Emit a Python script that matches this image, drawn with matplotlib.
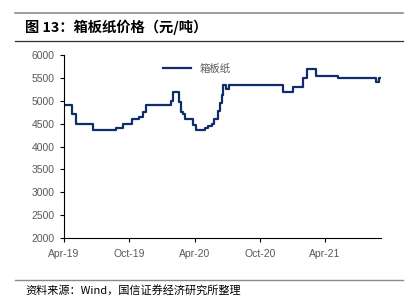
import matplotlib.pyplot as plt
import matplotlib.dates as mdates
import pandas as pd
from matplotlib.lines import Line2D

plt.rcParams["font.family"] = ["Liberation Sans", "Noto Sans CJK SC", "DejaVu Sans"]

# step changes of the carton board price (date, price from that date)
change_dates = [
    "2019-04-01", "2019-04-23", "2019-05-04", "2019-06-22", "2019-08-25",
    "2019-09-14", "2019-10-09", "2019-10-28", "2019-11-08", "2019-11-17",
    "2020-01-26", "2020-01-31", "2020-02-18", "2020-02-23", "2020-02-28",
    "2020-03-04", "2020-03-10", "2020-03-29", "2020-04-05", "2020-04-30",
    "2020-05-08", "2020-05-19", "2020-05-25", "2020-06-05", "2020-06-11",
    "2020-06-17", "2020-06-19", "2020-06-28", "2020-07-07", "2020-12-04",
    "2021-01-01", "2021-01-29", "2021-02-10", "2021-03-07", "2021-05-08",
    "2021-08-22", "2021-08-31", "2021-09-03",
]
prices = [
    4900, 4700, 4500, 4350, 4400,
    4500, 4600, 4650, 4750, 4900,
    5000, 5200, 4980, 4750, 4700,
    4600, 4600, 4480, 4350, 4400,
    4450, 4500, 4600, 4780, 4950,
    5130, 5350, 5250, 5350, 5200,
    5300, 5500, 5700, 5550, 5500,
    5400, 5500, 5500,
]
y_ticks = [2000, 2500, 3000, 3500, 4000, 4500, 5000, 5500, 6000]
x_ticks = ["2019-04-01", "2019-10-01", "2020-04-01", "2020-10-01", "2021-04-01"]

dates = pd.to_datetime(change_dates)
line_color = "#0F2D6B"
grey = "#595959"

fig = plt.figure(figsize=(4.12, 3.02), dpi=100)
ax = fig.add_axes([0.1553, 0.2119, 0.7697, 0.606])

ax.step(dates, prices, where="post", color=line_color, linewidth=1.6, label="箱板纸")

ax.set_ylim(2000, 6000)
ax.set_yticks(y_ticks)
ax.set_xlim(pd.Timestamp("2019-04-01"), pd.Timestamp("2021-09-06"))
ax.set_xticks(pd.to_datetime(x_ticks))
ax.xaxis.set_major_formatter(mdates.DateFormatter("%b-%y"))

for side in ["top", "right"]:
    ax.spines[side].set_visible(False)
for side in ["left", "bottom"]:
    ax.spines[side].set_color("black")
    ax.spines[side].set_linewidth(0.8)
ax.tick_params(axis="both", direction="out", length=3, width=0.8, color="black",
               labelsize=7.5, labelcolor=grey)
ax.tick_params(axis="x", pad=5)

leg = ax.legend(loc="center left", bbox_to_anchor=(0.3, 0.925), frameon=False,
                handlelength=2.7, fontsize=7.5, borderaxespad=0)
for t in leg.get_texts():
    t.set_color(grey)
    t.set_family(["Noto Sans CJK SC"])

# header and footer rules
fig.add_artist(Line2D([15 / 412, 403 / 412], [1 - 12.7 / 302] * 2, color="#8C8C8C", linewidth=1.2))
fig.add_artist(Line2D([15 / 412, 403 / 412], [1 - 40.7 / 302] * 2, color="#333333", linewidth=0.9))
fig.add_artist(Line2D([15 / 412, 403 / 412], [1 - 280 / 302] * 2, color="#8C8C8C", linewidth=1.0))

fig.text(25 / 412, 1 - 27 / 302, "图 13：箱板纸价格（元/吨）", fontsize=10.3, fontweight="bold",
         family=["Noto Sans CJK SC", "DejaVu Sans"], va="center", ha="left", color="black")
fig.text(25 / 412, 1 - 290 / 302, "资料来源：Wind，国信证券经济研究所整理", fontsize=8,
         family=["Noto Sans CJK SC", "DejaVu Sans"], va="center", ha="left", color="black")

fig.savefig("out.png", dpi=100)
